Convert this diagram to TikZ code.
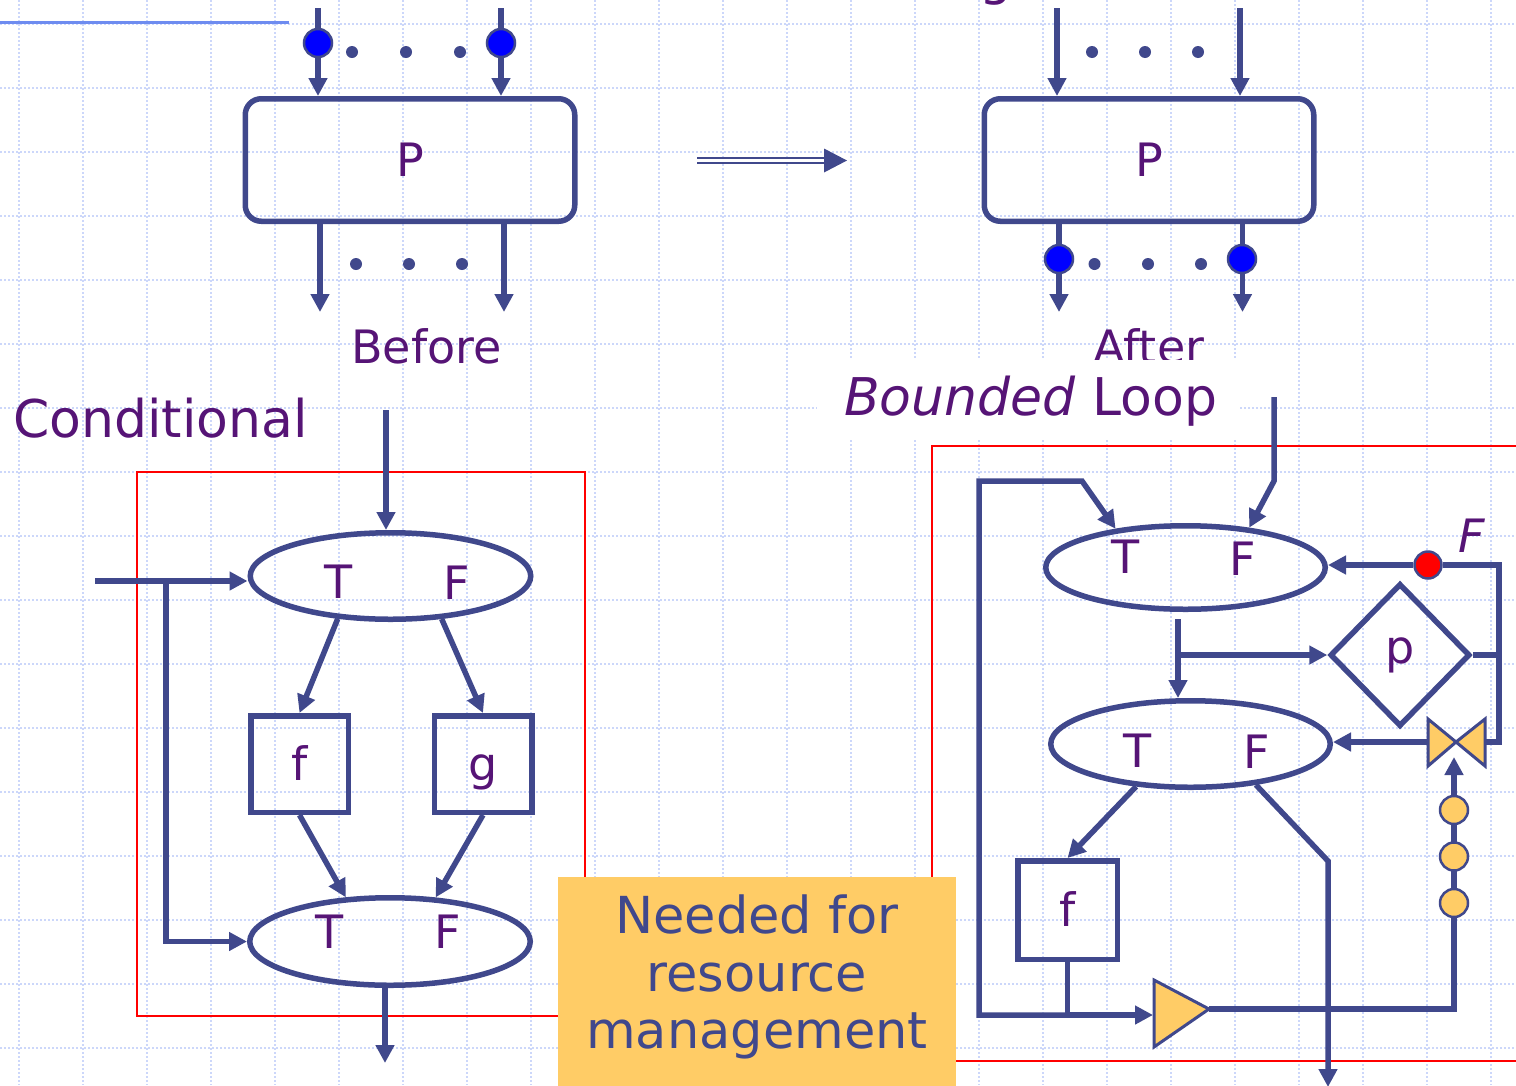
\documentclass[tikz,border=0pt]{standalone}
\usepackage{fontspec}
\setmainfont{DejaVu Sans}
\usetikzlibrary{arrows.meta,shapes.geometric,calc}

\definecolor{ink}{RGB}{64,72,140}
\definecolor{txt}{RGB}{86,20,118}
\definecolor{gridblue}{RGB}{204,215,250}
\definecolor{note}{RGB}{255,204,102}
\definecolor{rulecol}{RGB}{110,140,240}
\definecolor{tokenblue}{RGB}{0,0,255}
\definecolor{framered}{RGB}{255,0,0}

\tikzset{
  gridline/.style={draw=gridblue, line width=2pt, dash pattern=on 2pt off 2pt},
  flow/.style={draw=ink, line width=5.5pt},
  arr/.style={flow, -{Triangle[length=18pt,width=18pt]}},
  lbl/.style={text=txt, font=\fontsize{46}{55}\selectfont, inner sep=0pt},
  title/.style={lbl, font=\fontsize{52}{62}\selectfont},
  proc/.style={draw=ink, line width=5.5pt, rounded corners=16pt,
    minimum width=329.5pt, minimum height=122.5pt, inner sep=0pt,
    text=txt, font=\fontsize{46}{55}\selectfont},
  decision/.style={ellipse, draw=ink, line width=5.5pt,
    minimum width=280.5pt, minimum height=86.5pt, inner sep=0pt},
  func/.style={draw=ink, line width=5.5pt, minimum width=97.5pt,
    minimum height=96.5pt, inner sep=0pt, text=txt,
    text height=34pt, text depth=2pt,
    font=\fontsize{46}{55}\selectfont},
  token/.style={circle, draw=ink, line width=2.5pt, fill=tokenblue,
    minimum size=28pt, inner sep=0pt},
  tinydot/.style={circle, fill=ink, minimum size=12pt, inner sep=0pt},
  coin/.style={circle, draw=ink, line width=2.5pt, fill=note,
    minimum size=28pt, inner sep=0pt},
  frame/.style={draw=framered, line width=2.5pt},
  part/.style={draw=ink, fill=note, line width=3pt},
}

\begin{document}
\begin{tikzpicture}[x=1pt, y=-1pt]
\useasboundingbox (0,0) rectangle (1516,1085);
\fill[white] (0,0) rectangle (1516,1085);

% squared paper
\foreach \gx in {0,...,23} \draw[gridline] ({19+64*\gx},0) -- ({19+64*\gx},1085);
\foreach \gy in {0,...,16} \draw[gridline] (0,{24+64*\gy}) -- (1516,{24+64*\gy});

% title remnants
\draw[rulecol, line width=3pt] (0,22) -- (289,22);
\node[title, anchor=base] (gcut) at (996,-6) {g};

% ---------- process P, before ----------
\node[proc] (P1) at (410,160) {P};
\coordinate (a1) at (318,8);
\coordinate (a2) at (501,8);
\draw[arr] (a1) -- (a1 |- P1.north);
\draw[arr] (a2) -- (a2 |- P1.north);
\node[token] (t1) at (318,43) {};
\node[token] (t2) at (501,43) {};
\foreach \i/\dx in {1/352,2/406,3/460} \node[tinydot] (ua\i) at (\dx,52) {};
\coordinate (b1) at (320,312);
\coordinate (b2) at (504,312);
\draw[arr] (b1 |- P1.south) -- (b1);
\draw[arr] (b2 |- P1.south) -- (b2);
\foreach \i/\dx in {1/356,2/409,3/462} \node[tinydot] (la\i) at (\dx,264) {};
\node[lbl, anchor=base] (before) at (426.5,363) {Before};

% ---------- transformation arrow ----------
\coordinate (m1) at (697,160.5);
\coordinate (m2) at (826,160.5);
\draw[draw=ink, line width=2pt, double=white, double distance=2.5pt] (m1) -- (m2);
\fill[ink] (824,148.5) -- (847,160.5) -- (824,172.5) -- cycle;

% ---------- process P, after ----------
\node[proc] (P2) at (1149,160) {P};
\coordinate (a3) at (1057,8);
\coordinate (a4) at (1240,8);
\draw[arr] (a3) -- (a3 |- P2.north);
\draw[arr] (a4) -- (a4 |- P2.north);
\foreach \i/\dx in {1/1092,2/1145,3/1198} \node[tinydot] (ub\i) at (\dx,52) {};
\coordinate (b3) at (1059,312);
\coordinate (b4) at (1242.5,312);
\draw[arr] (b3 |- P2.south) -- (b3);
\draw[arr] (b4 |- P2.south) -- (b4);
\node[token] (t3) at (1059,259) {};
\node[token] (t4) at (1242,259) {};
\foreach \i/\dx in {1/1094.5,2/1148,3/1201} \node[tinydot] (lb\i) at (\dx,264) {};
\node[lbl, anchor=base] (after) at (1149,363) {After};

% ---------- headings ----------
\fill[white] (817,360) rectangle (1240,440);
\node[title, anchor=base west] (bloop) at (844,415) {\textit{Bounded} Loop};
\node[title, anchor=base west] (cond) at (13,437) {Conditional};

% ---------- conditional ----------
\draw[frame] (137,472) rectangle (585,1016);
\node[decision] (c1) at (390.5,576) {};
\node[decision, minimum height=87.5pt] (c2) at (390,941.5) {};
\node[func] (cf) at (299.5,764) {f};
\node[func] (cg) at (483,764) {g};
\node[lbl, anchor=base] (c1t) at (339,598) {T};
\node[lbl, anchor=base] (c1f) at (457,599) {F};
\node[lbl, anchor=base] (c2t) at (330,948) {T};
\node[lbl, anchor=base] (c2f) at (448,948) {F};
\coordinate (cin) at (386,410);
\coordinate (cl) at (95,581);
\coordinate (cbr) at (166,581);
\coordinate (cout) at (385,1063);
\draw[arr] (cin) -- (cin |- c1.north);
\draw[arr] (cl) -- (cl -| c1.west);
\draw[arr] (cbr) |- (c2.west);
\draw[arr] (c1.219) -- (cf.north);
\draw[arr] (c1.320) -- (cg.north);
\draw[arr] (cf.south) -- (c2.135);
\draw[arr] (cg.south) -- (c2.44);
\draw[arr] (cout |- c2.south) -- (cout);

% ---------- bounded loop ----------
\draw[frame] (932,446) rectangle (1560,1061);
\node[decision, minimum width=279.5pt, minimum height=83.5pt] (l1) at (1185.5,567.5) {};
\node[decision, minimum width=279.5pt, minimum height=86.5pt] (l2) at (1190.5,744) {};
\node[func, minimum width=99.5pt, minimum height=98.5pt] (lf) at (1067.5,910) {f};
\node[diamond, draw=ink, line width=5.5pt, minimum width=140pt, minimum height=143pt,
      inner sep=0pt, text=txt, font=\fontsize{46}{55}\selectfont] (lp) at (1400,655) {p};
\node[lbl, anchor=base] (l1t) at (1126,573) {T};
\node[lbl, anchor=base] (l1f) at (1243,575) {F};
\node[lbl, anchor=base] (l2t) at (1138,767) {T};
\node[lbl, anchor=base] (l2f) at (1257,768) {F};

% counter valve and amplifier
\coordinate (vc) at (1456,742);
\filldraw[part] (1428,719) -- (vc) -- (1428,766) -- cycle;
\filldraw[part] (1485,719) -- (vc) -- (1485,766) -- cycle;
\coordinate (vL) at (1428,742);
\coordinate (vR) at (1485,742);
\coordinate (vB) at (1454,757);
\filldraw[part] (1154,980) -- (1209,1009) -- (1154,1047) -- cycle;
\coordinate (ampL) at (1153,1015);
\coordinate (ampR) at (1209,1009);

\node[token, fill=framered, minimum size=27pt] (rd) at (1428,565) {};
\node[lbl, anchor=base] (fF) at (1472,552) {\textit{F}};

\coordinate (lin) at (1274,397);
\coordinate (lbend) at (1274,481);
\coordinate (lpa) at (979,481);
\coordinate (lpb) at (1082,481);
\coordinate (s3) at (1178,619);
\coordinate (rc) at (1499,565);
\coordinate (lo1) at (1328,861);
\coordinate (lout) at (1328,1087);

\draw[arr] (lin) -- (lbend) -- (l1.32);
\draw[arr] (lf.south) |- (ampL);
\draw[arr] (lf.south |- ampL) -| (lpa) -- (lpb) -- (l1.151);
\draw[arr] (rd.west) -- (rd.west -| l1.east);
\draw[flow] (rd.east) -- (rc) |- (vR);
\draw[flow] (lp.east) -- (lp.east -| rc);
\draw[arr] (vL) -- (vL -| l2.east);
\draw[arr] (s3) -- (s3 |- l2.north);
\draw[arr] ($(s3 |- lp.west)+(-3,0)$) -- (lp.west);
\draw[arr] (l2.218) -- (lf.north);
\draw[arr] (l2.328) -- (lo1) -- (lout);
\draw[arr] (ampR) -| (vB);
\foreach \i/\cy in {1/810,2/856.5,3/903} \node[coin] (k\i) at (1454,\cy) {};

% ---------- note ----------
\node[fill=note, minimum width=398pt, minimum height=215pt, anchor=north west,
      inner sep=0pt] (notebg) at (558,877) {};
\node[text=ink, align=center, font=\fontsize{51}{57.5}\selectfont, inner sep=0pt]
      (notetext) at (757,977) {Needed for\\resource\\management};
\end{tikzpicture}
\end{document}
